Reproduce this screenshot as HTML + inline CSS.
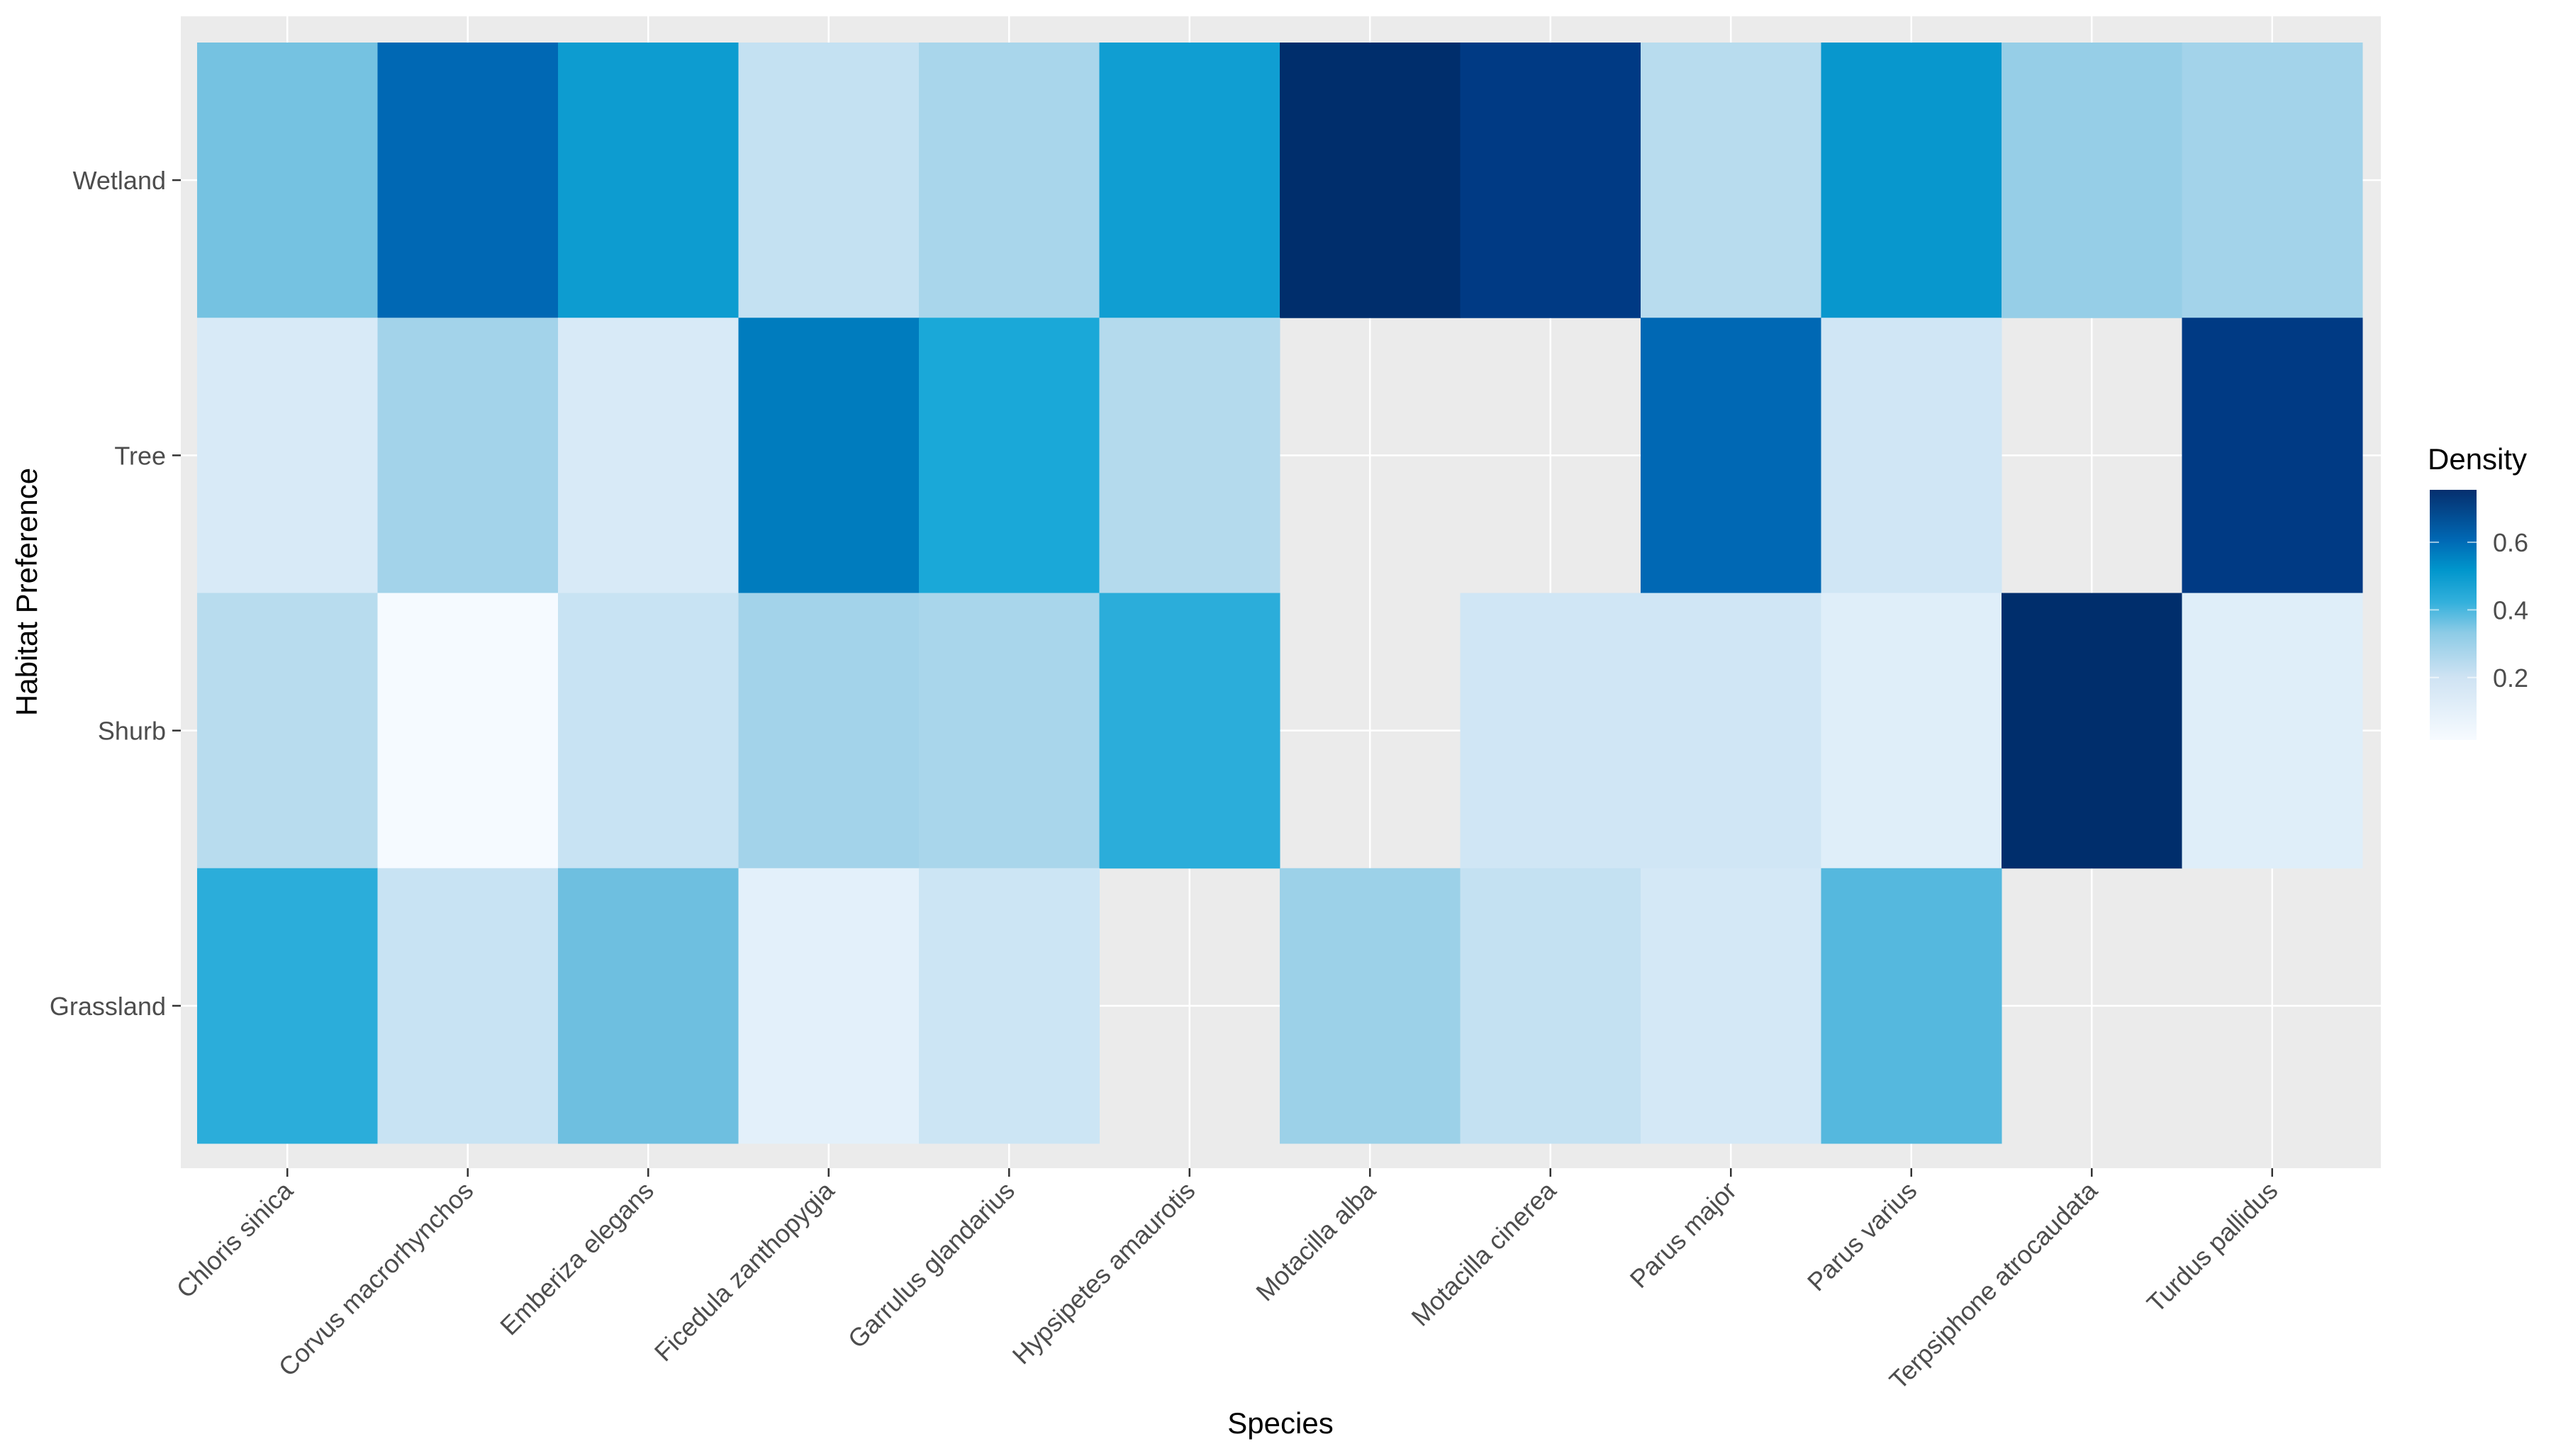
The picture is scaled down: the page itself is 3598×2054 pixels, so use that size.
<!DOCTYPE html>
<html><head><meta charset="utf-8">
<style>
html,body{margin:0;padding:0;background:#fff;}
svg{display:block;font-family:"Liberation Sans",Arial,sans-serif;}
</style></head>
<body>
<svg id="chart" width="3598" height="2054" viewBox="0 0 3598 2054" xmlns="http://www.w3.org/2000/svg">
<defs>
<linearGradient id="legGrad" x1="0" y1="1" x2="0" y2="0">
<stop offset="0" stop-color="#f7fbff"/>
<stop offset="0.25" stop-color="#cfe3f3"/>
<stop offset="0.43" stop-color="#8ccbe6"/>
<stop offset="0.55" stop-color="#33b0dc"/>
<stop offset="0.68" stop-color="#0096cc"/>
<stop offset="0.8" stop-color="#0068b4"/>
<stop offset="1" stop-color="#062f6e"/>
</linearGradient>
</defs>
<rect x="255" y="23" width="3103" height="1625" fill="#ebebeb"/>
<g id="grid"></g>
<g id="cells"></g>
<g id="axes"></g>
<g id="legend"></g>
<text x="1806" y="2022" font-size="42" text-anchor="middle" fill="#000">Species</text>
<text transform="translate(52,835) rotate(-90)" font-size="42" text-anchor="middle" fill="#000">Habitat Preference</text>
</svg>
<script>
const species = ["Chloris sinica","Corvus macrorhynchos","Emberiza elegans","Ficedula zanthopygia","Garrulus glandarius","Hypsipetes amaurotis","Motacilla alba","Motacilla cinerea","Parus major","Parus varius","Terpsiphone atrocaudata","Turdus pallidus"];
const habitats = ["Wetland","Tree","Shurb","Grassland"];
const wetland   = [0.29,0.60,0.45,0.15,0.21,0.44,0.76,0.72,0.18,0.47,0.24,0.22];
const tree      = [0.10,0.22,0.10,0.55,0.40,0.19,null,null,0.60,0.12,null,0.72];
const shurb     = [0.18,0.02,0.14,0.22,0.21,0.38,null,0.12,0.12,0.08,0.76,0.08];
const grassland = [0.38,0.14,0.30,0.07,0.13,null,0.23,0.15,0.11,0.33,null,null];
const legendTicks = [0.2,0.4,0.6];
const legendMin = 0.015, legendMax = 0.755;

const NS="http://www.w3.org/2000/svg";
const plotX0=278, plotX1=3332, plotY0=60, plotY1=1613;
const colW=(plotX1-plotX0)/species.length, rowH=(plotY1-plotY0)/habitats.length;
function xScale(i){return plotX0+i*colW;}
function yScale(j){return plotY0+j*rowH;}
const stops=[[0.015,[247,251,255]],[0.1,[216,234,247]],[0.2,[176,216,236]],[0.3,[110,191,224]],[0.4,[26,168,216]],[0.5,[0,144,200]],[0.6,[0,104,180]],[0.7,[0,64,144]],[0.76,[0,46,108]]];
function color(v){
  if(v<=stops[0][0])return "rgb("+stops[0][1].join(",")+")";
  for(let k=1;k<stops.length;k++){
    if(v<=stops[k][0]){const a=stops[k-1],b=stops[k];const t=(v-a[0])/(b[0]-a[0]);
      const c=a[1].map((x,i)=>Math.round(x+(b[1][i]-x)*t));return "rgb("+c.join(",")+")";}
  }
  return "rgb("+stops[stops.length-1][1].join(",")+")";
}
function mk(tag,attrs,parent){const e=document.createElementNS(NS,tag);for(const k in attrs)e.setAttribute(k,attrs[k]);parent.appendChild(e);return e;}
const grid=document.getElementById('grid'),cells=document.getElementById('cells'),axes=document.getElementById('axes'),legend=document.getElementById('legend');
species.forEach((s,i)=>{
  const cx=xScale(i)+colW/2;
  const g=mk('line',{x1:cx,x2:cx,y1:23,y2:1648,stroke:'#fff','stroke-width':2.5},grid);
  
  
  const t=mk('line',{x1:cx,x2:cx,y1:1648,y2:1660,stroke:'#333','stroke-width':2.5},axes);
  
  
  const lb=mk('text',{transform:'translate('+(cx+10)+',1682) rotate(-45)','font-size':36,'text-anchor':'end',fill:'#4d4d4d'},axes);
  lb.textContent=s;
  
  
});
habitats.forEach((h,j)=>{
  const cy=yScale(j)+rowH/2;
  const g=mk('line',{x1:255,x2:3358,y1:cy,y2:cy,stroke:'#fff','stroke-width':2.5},grid);
  
  
  const t=mk('line',{x1:243,x2:255,y1:cy,y2:cy,stroke:'#333','stroke-width':2.5},axes);
  
  
  const lb=mk('text',{x:234,y:cy+13,'font-size':36,'text-anchor':'end',fill:'#4d4d4d'},axes);
  lb.textContent=h;
  
  
});
const rows=[wetland,tree,shurb,grassland];
rows.forEach((row,j)=>{
  row.forEach((v,i)=>{
    if(v===null)return;
    const r=mk('rect',{x:xScale(i),y:yScale(j),width:colW+0.5,height:rowH+0.5,fill:color(v)},cells);
    
    
  });
});
const lx=3427,lw=66,ly0=691,ly1=1044;
function lScale(v){return ly1-(v-legendMin)/(legendMax-legendMin)*(ly1-ly0);}
const lt=mk('text',{x:3424,y:662,'font-size':42,fill:'#000'},legend);
lt.textContent='Density';


const bar=mk('rect',{x:lx,y:ly0,width:lw,height:ly1-ly0,fill:'url(#legGrad)'},legend);


legendTicks.forEach(v=>{
  const y=lScale(v);
  mk('line',{x1:lx,x2:lx+13,y1:y,y2:y,stroke:'#fff','stroke-opacity':0.6,'stroke-width':2},legend);
  mk('line',{x1:lx+lw-13,x2:lx+lw,y1:y,y2:y,stroke:'#fff','stroke-opacity':0.6,'stroke-width':2},legend);
  const tl=mk('text',{x:3516,y:y+13,'font-size':36,fill:'#4d4d4d'},legend);
  tl.textContent=v.toFixed(1);
  
  
});
</script>
</body></html>
